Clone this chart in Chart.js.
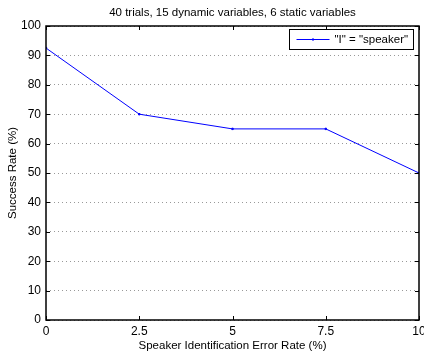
<!DOCTYPE html>
<html>
<head>
<meta charset="utf-8">
<script src="https://cdn.jsdelivr.net/npm/chart.js@4/dist/chart.umd.min.js"></script>
<style>
  html, body { margin: 0; padding: 0; background: #fff; }
  #wrap { width: 424px; height: 354px; }
</style>
</head>
<body>
<div id="wrap"><canvas id="chart" width="424" height="354"></canvas></div>
<script>
const chartTitle = '40 trials, 15 dynamic variables, 6 static variables';
const xTitle = 'Speaker Identification Error Rate (%)';
const yTitle = 'Success Rate (%)';
const seriesLabel = '"I" = "speaker"';
const errorRates = [0, 2.5, 5, 7.5, 10];
const successRates = [92.5, 70, 65, 65, 50];

const font = 'Liberation Sans, Arial, Helvetica, sans-serif';

// title, box, inward ticks and legend, drawn like the matlab figure
const matlabLook = {
    id: 'matlabLook',
    afterDraw(chart) {
        const ctx = chart.ctx;
        const a = chart.chartArea;
        const xs = chart.scales.x, ys = chart.scales.y;
        ctx.save();

        ctx.fillStyle = '#000';
        ctx.font = '11.5px ' + font;
        ctx.textAlign = 'center';
        ctx.textBaseline = 'middle';
        ctx.fillText(chartTitle, (a.left + a.right) / 2, 13);

        ctx.strokeStyle = '#000';
        ctx.lineWidth = 1;
        ctx.beginPath();
        xs.ticks.forEach(t => {
            const px = Math.round(xs.getPixelForValue(t.value)) + 0.5;
            ctx.moveTo(px, a.top); ctx.lineTo(px, a.top + 4);
            ctx.moveTo(px, a.bottom); ctx.lineTo(px, a.bottom - 4);
        });
        ys.ticks.forEach(t => {
            const py = Math.round(ys.getPixelForValue(t.value)) + 0.5;
            ctx.moveTo(a.left, py); ctx.lineTo(a.left + 4, py);
            ctx.moveTo(a.right, py); ctx.lineTo(a.right - 4, py);
        });
        ctx.stroke();

        ctx.lineWidth = 1.5;
        ctx.strokeRect(a.left, a.top, a.right - a.left, a.bottom - a.top);

        // legend box
        const bx = 289.5, by = 29.5, bw = 124, bh = 20;
        ctx.fillStyle = '#fff';
        ctx.fillRect(bx, by, bw, bh);
        ctx.lineWidth = 1;
        ctx.strokeRect(bx, by, bw, bh);
        const ly = by + bh / 2;
        ctx.strokeStyle = '#0000ff';
        ctx.beginPath();
        ctx.moveTo(bx + 7, ly); ctx.lineTo(bx + 40, ly);
        ctx.stroke();
        ctx.fillStyle = '#0000ff';
        ctx.fillRect(bx + 22.5, ly - 1, 2, 2);
        ctx.fillStyle = '#000';
        ctx.textAlign = 'left';
        ctx.fillText(seriesLabel, bx + 45, ly + 0.5);
        ctx.restore();
    }
};

new Chart(document.getElementById('chart'), {
    type: 'line',
    data: {
        datasets: [{
            label: seriesLabel,
            data: errorRates.map((x, i) => ({ x: x, y: successRates[i] })),
            borderColor: '#0000ff',
            backgroundColor: '#0000ff',
            borderWidth: 1,
            pointRadius: 1,
            pointStyle: 'rect',
            tension: 0
        }]
    },
    options: {
        responsive: false,
        animation: false,
        layout: { padding: { top: 26, right: 5, left: 0, bottom: 0 } },
        plugins: { legend: { display: false }, title: { display: false }, tooltip: { enabled: false } },
        scales: {
            x: {
                type: 'linear',
                min: 0, max: 10,
                afterBuildTicks: s => { s.ticks = errorRates.map(v => ({ value: v })); },
                ticks: {
                    color: '#000', padding: 4,
                    font: { family: font, size: 12 },
                    maxRotation: 0,
                    callback: v => String(v)
                },
                grid: { display: false, drawTicks: false },
                border: { display: false },
                title: {
                    display: true, text: xTitle, color: '#000',
                    font: { family: font, size: 11.5 },
                    padding: { top: 0, bottom: 1 }
                },
                afterFit: s => { s.height = 34; s.paddingLeft = 0; s.paddingRight = 0; }
            },
            y: {
                min: 0, max: 100,
                ticks: {
                    stepSize: 10, color: '#000', padding: 5,
                    font: { family: font, size: 12 }
                },
                grid: {
                    color: '#999999', lineWidth: 1, drawTicks: false
                },
                border: { display: false, dash: [1, 3] },
                title: {
                    display: true, text: yTitle, color: '#000',
                    font: { family: font, size: 11.5 },
                    padding: { top: 6, bottom: 0 }
                },
                afterFit: s => { s.width = 46; s.paddingTop = 0; s.paddingBottom = 0; }
            }
        }
    },
    plugins: [matlabLook]
});
</script>
</body>
</html>
